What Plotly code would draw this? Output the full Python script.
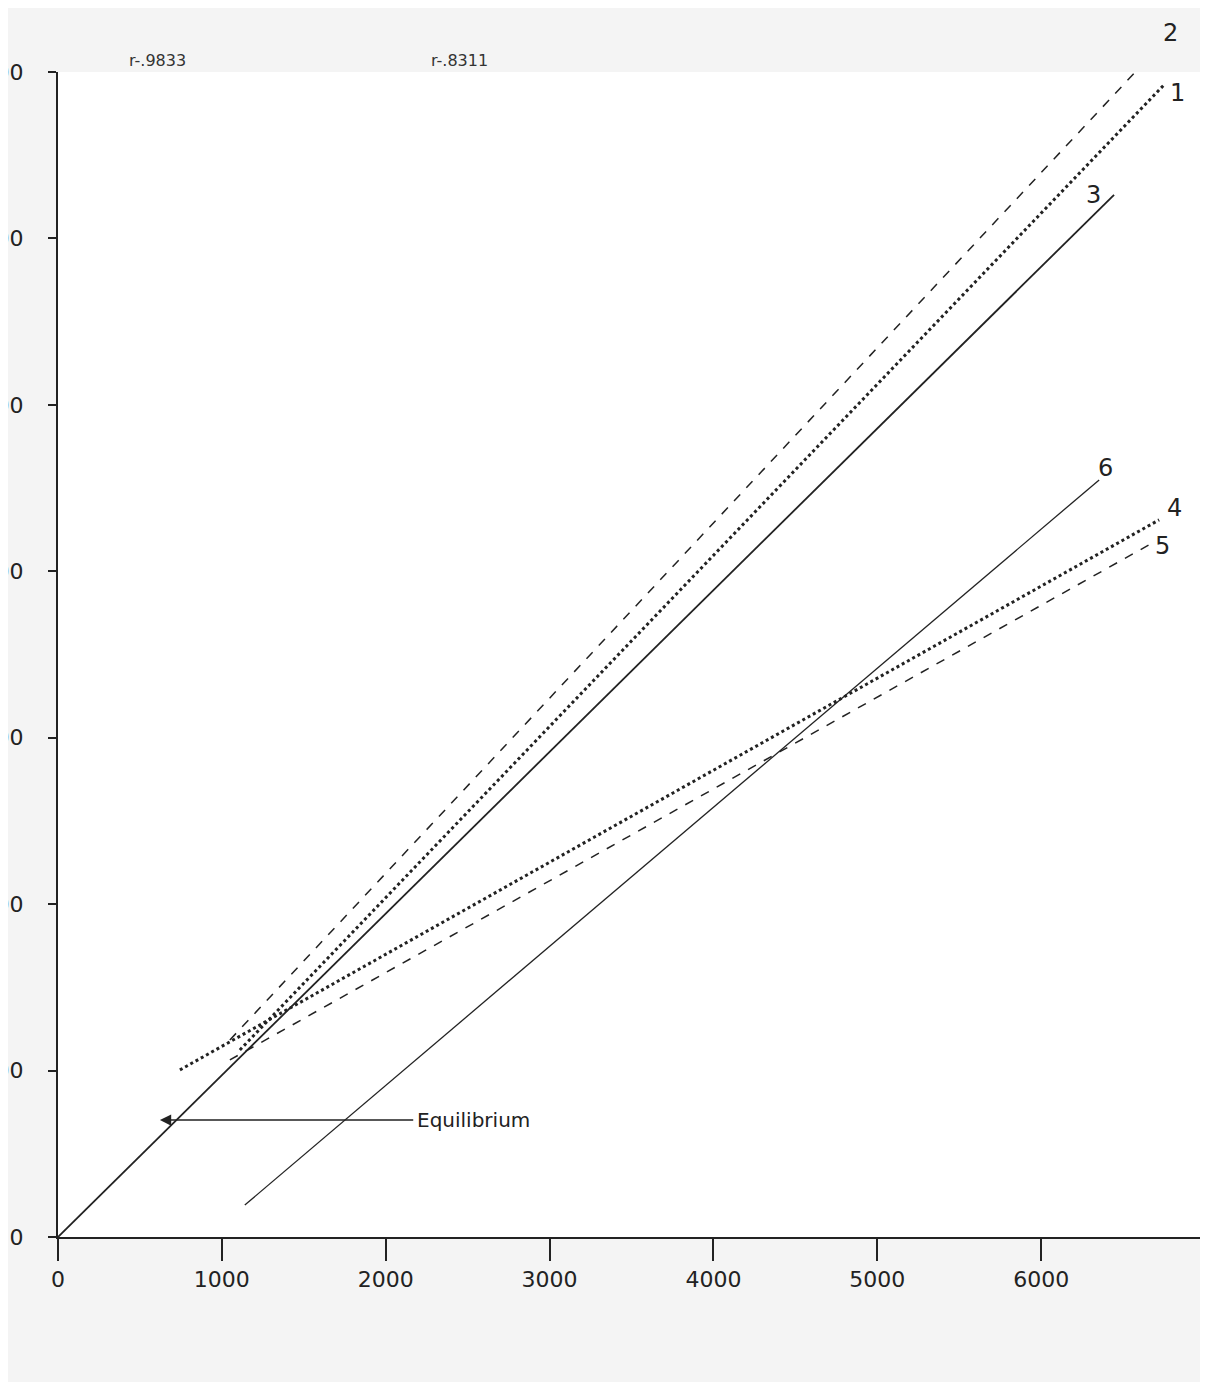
import plotly.graph_objects as go

ticks = [0, 1000, 2000, 3000, 4000, 5000, 6000, 7000]
xlabels = ["0", "1000", "2000", "3000", "4000", "5000", "6000", "700"]
ylabels = ["0", "1000", "2000", "3000", "4000", "5000", "6000", "7000"]

lines = {
    "2": ([1049, 6872], [1184, 7313], "dash", 1.5),
    "1": ([1110, 6750], [1124, 6923], "dot", 3),
    "3": ([0, 6445], [0, 6262], "solid", 1.8),
    "6": ([1140, 6354], [192, 4549], "solid", 1.3),
    "4": ([744, 6720], [1004, 4309], "dot", 3),
    "5": ([1049, 6659], [1064, 4159], "dash", 1.5),
}
label_pos = {"2": (6850, 7330), "1": (6890, 6970), "3": (6380, 6360),
             "6": (6450, 4620), "4": (6870, 4380), "5": (6800, 4150)}

fig = go.Figure()
for name, (xs, ys, dash, w) in lines.items():
    fig.add_trace(go.Scatter(x=xs, y=ys, mode="lines", line=dict(color="#222", dash=dash, width=w),
                             showlegend=False, cliponaxis=False))
    lx, ly = label_pos[name]
    fig.add_annotation(x=lx / 7000, y=ly / 7000, xref="paper", yref="paper", text=name,
                       showarrow=False, font=dict(size=24, color="#222"))

fig.add_annotation(x=622, y=703, ax=2177, ay=703, axref="x", ayref="y", xref="x", yref="y",
                   showarrow=True, arrowhead=2, arrowsize=1.5, arrowwidth=1.5, arrowcolor="#222", text="")
fig.add_annotation(x=2177, y=703, text="Equilibrium", showarrow=False, xanchor="left",
                   font=dict(size=20, color="#222"))
fig.add_annotation(x=0.06, y=1.0, xref="paper", yref="paper", yanchor="bottom", text="r-.9833",
                   showarrow=False, font=dict(size=16, color="#333"))
fig.add_annotation(x=0.35, y=1.0, xref="paper", yref="paper", yanchor="bottom", text="r-.8311",
                   showarrow=False, font=dict(size=16, color="#333"))

fig.update_xaxes(range=[0, 7000], tickvals=ticks, ticktext=xlabels, showline=True, linecolor="#222",
                 linewidth=2, ticks="outside", ticklen=22, tickwidth=2, tickcolor="#222",
                 showgrid=False, zeroline=False, tickfont=dict(size=22, color="#222"), automargin=False)
fig.update_yaxes(range=[0, 7000], tickvals=ticks, ticktext=ylabels, showline=True, linecolor="#222",
                 linewidth=2, ticks="outside", ticklen=8, tickwidth=2, tickcolor="#222",
                 showgrid=False, zeroline=False, tickfont=dict(size=22, color="#222"),
                 ticklabelstandoff=20, automargin=False)
fig.update_layout(width=1200, height=1374, margin=dict(l=50, r=3, t=64, b=145),
                  plot_bgcolor="white", paper_bgcolor="#f4f4f4", font=dict(family="DejaVu Sans"))
fig.write_html("out.html")
